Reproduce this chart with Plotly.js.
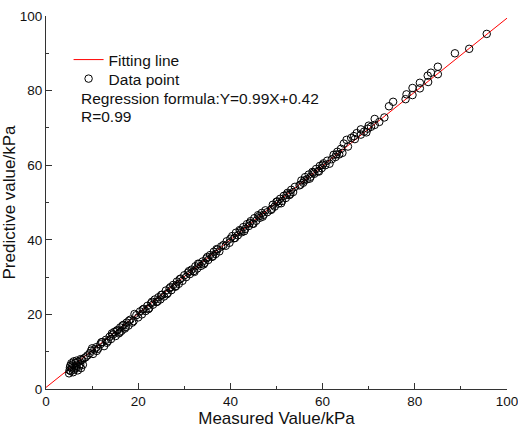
<!DOCTYPE html>
<html>
<head>
<meta charset="utf-8">
<script src="https://cdn.plot.ly/plotly-3.0.1.min.js"></script>
<style>html,body{margin:0;padding:0;background:#fff;}#chart{width:518px;height:428px;}</style>
</head>
<body>
<div id="chart"></div>
<script>
// Fitting line end points (Y = 0.99X + 0.42)
const fitX = [0, 100];
const fitY = [0.42, 99.42];

// Measured values (kPa)
const measured = [
5.0,5.1,5.2,5.3,5.4,5.5,5.6,5.8,5.9,6.0,6.1,6.2,6.4,6.5,6.6,6.7,6.9,7.0,7.2,7.4,7.5,7.6,7.8,8.0,8.2,
8.6,9.0,9.5,9.8,10.2,10.5,10.9,11.3,11.8,12.2,
12.6,13.0,13.4,13.8,14.1,14.5,14.8,15.1,15.5,15.8,16.1,16.4,16.8,17.1,17.5,17.9,18.3,18.7,19.2,19.6,20.0,
20.4,20.8,21.2,21.6,22.0,22.4,22.8,23.2,23.6,24.0,24.4,24.8,25.2,25.6,26.0,26.4,26.8,27.2,27.6,28.0,28.4,28.8,29.2,29.6,30.0,
30.4,30.8,31.2,31.6,32.0,32.4,32.8,33.2,33.6,34.0,34.4,34.8,35.2,35.6,36.0,36.4,36.8,37.2,37.6,38.0,
38.5,39.2,39.8,40.4,40.8,41.2,41.6,42.0,42.4,42.8,43.2,43.6,44.0,44.4,44.8,45.2,45.6,46.0,46.4,46.8,47.2,47.6,48.0,
48.8,49.2,49.6,50.0,50.4,50.8,51.2,51.6,52.0,52.4,52.8,53.2,53.6,54.0,
55.0,55.4,55.8,56.2,56.6,57.0,57.4,57.8,58.2,58.6,59.0,59.4,59.8,60.2,60.6,61.0,
62.0,62.4,62.8,63.2,63.6,64.0,64.6,65.2,66.2,66.8,67.4,68.3,68.3,69.0,69.8,70.5,71.3,71.3,72.3,73.4,74.4,75.3,78.0,78.2,79.5,79.5,81.1,81.1,82.9,82.8,83.5,85.0,85.0,88.7,91.8,95.6,
10.0,11.0,12.0,13.2,14.3,15.3,16.0,16.6,17.3,18.0,19.0,21.0,22.2,23.0,24.2,25.0,26.2,27.0,28.2,29.0,
31.0,32.2,33.0,34.2,35.0,36.2,37.0,39.0,40.0,41.0,42.2,43.0,44.2,45.0,46.2,47.0,49.0,50.2,51.0,52.2,
53.0,55.2,56.0,57.2,58.0,59.2,60.0,61.5,63.0,64.3,65.5,67.0,69.5,70.0
];

// Predictive values (kPa)
const predicted = [
4.2,5.0,5.8,6.3,4.8,6.9,5.5,6.6,4.5,7.4,5.2,6.0,7.0,5.6,7.6,6.3,5.0,7.3,6.0,6.6,8.0,5.6,7.8,6.5,8.2,
8.5,9.0,9.6,10.3,9.4,10.6,11.2,10.8,12.0,12.6,
11.5,13.2,12.8,14.0,13.4,14.6,15.3,14.2,15.8,14.9,16.5,15.6,17.2,16.2,17.8,17.0,18.6,17.8,20.1,19.8,19.2,
20.8,20.0,21.5,20.9,22.3,21.7,23.0,22.6,24.0,23.3,24.6,24.0,25.3,24.8,26.4,25.7,27.0,26.5,27.9,27.4,28.8,28.2,29.6,29.0,30.5,
30.0,31.2,30.8,32.0,31.6,32.9,32.3,33.5,33.0,34.2,33.8,35.0,34.6,35.9,35.4,36.8,36.2,37.4,36.9,38.2,
38.6,39.6,39.2,41.0,40.4,41.9,41.2,42.6,42.0,43.4,42.9,44.2,43.7,45.0,44.3,45.8,45.1,46.6,45.9,47.2,46.7,47.9,47.4,
48.0,49.4,48.9,50.2,49.7,51.0,50.4,51.8,51.2,52.6,52.0,53.4,52.8,54.2,
54.6,55.9,55.3,56.8,56.2,57.5,56.9,58.2,57.7,59.0,58.4,59.8,59.2,60.5,60.0,61.2,
61.6,62.8,62.2,63.6,62.9,64.4,65.8,66.8,67.3,67.8,68.6,69.6,68.2,69.0,69.8,70.3,72.4,70.8,71.6,72.8,75.8,77.0,77.7,79.0,80.7,78.8,82.1,80.6,82.3,84.0,84.8,86.4,84.4,90.0,91.2,95.2,
10.9,10.2,12.5,12.4,14.9,15.6,15.2,17.0,16.6,18.3,18.2,21.3,21.4,23.4,23.5,25.2,25.4,27.3,27.6,29.4,
31.6,31.4,33.6,33.4,35.4,35.6,37.5,38.4,40.3,40.5,42.4,42.3,44.5,44.3,46.3,46.2,48.3,50.3,49.8,52.1,
52.3,54.8,55.9,56.4,58.0,58.3,60.1,60.4,62.9,63.3,65.0,67.0,68.8,70.6
];

const tickVals = [0, 20, 40, 60, 80, 100];
const tickText = ["0", "20", "40", "60", "80", "100"];

const FONT = "Liberation Sans, Arial, sans-serif";

const traces = [
  {
    x: fitX, y: fitY, mode: "lines", name: "Fitting line",
    line: {color: "#ff0000", width: 1}, legend: "legend"
  },
  {
    x: measured, y: predicted, mode: "markers", name: "Data point",
    marker: {symbol: "circle-open", size: 7.5, color: "#000000", line: {width: 1, color: "#000000"}},
    legend: "legend2"
  }
];

const axisCommon = {
  range: [0, 100],
  tickvals: tickVals,
  ticktext: tickText,
  ticks: "inside",
  ticklen: 6,
  tickwidth: 1,
  tickcolor: "#333",
  showline: true,
  linecolor: "#333",
  linewidth: 1,
  showgrid: false,
  zeroline: false,
  ticklabeloverflow: "allow",
  tickfont: {family: FONT, size: 13.5, color: "#111"},
  minor: {dtick: 10, ticks: "inside", ticklen: 3, tickcolor: "#333", showgrid: false},
  mirror: false
};

const legendCommon = {
  xanchor: "left", yanchor: "middle",
  bgcolor: "rgba(0,0,0,0)", borderwidth: 0,
  font: {family: FONT, size: 15.5, color: "#111"}
};

const layout = {
  width: 518, height: 428,
  margin: {l: 46, r: 11, t: 16, b: 39},
  paper_bgcolor: "#ffffff",
  plot_bgcolor: "#ffffff",
  font: {family: FONT, color: "#111"},
  showlegend: true,
  legend: Object.assign({}, legendCommon, {x: 0.049, y: 0.882}),
  legend2: Object.assign({}, legendCommon, {x: 0.049, y: 0.831}),
  xaxis: Object.assign({}, axisCommon, {
    title: {text: "Measured Value/kPa", font: {family: FONT, size: 17, color: "#111"}, standoff: 2}
  }),
  yaxis: Object.assign({}, axisCommon, {
    title: {text: "Predictive value/kPa", font: {family: FONT, size: 17, color: "#111"}, standoff: 1}
  }),
  annotations: [
    {xref: "paper", yref: "paper", x: 0.072, y: 0.78, xanchor: "left", yanchor: "middle",
     text: "Regression formula:Y=0.99X+0.42", showarrow: false,
     font: {family: FONT, size: 15.5, color: "#111"}},
    {xref: "paper", yref: "paper", x: 0.072, y: 0.731, xanchor: "left", yanchor: "middle",
     text: "R=0.99", showarrow: false,
     font: {family: FONT, size: 15.5, color: "#111"}}
  ]
};

Plotly.newPlot("chart", traces, layout, {displayModeBar: false, staticPlot: true});
</script>
</body>
</html>
